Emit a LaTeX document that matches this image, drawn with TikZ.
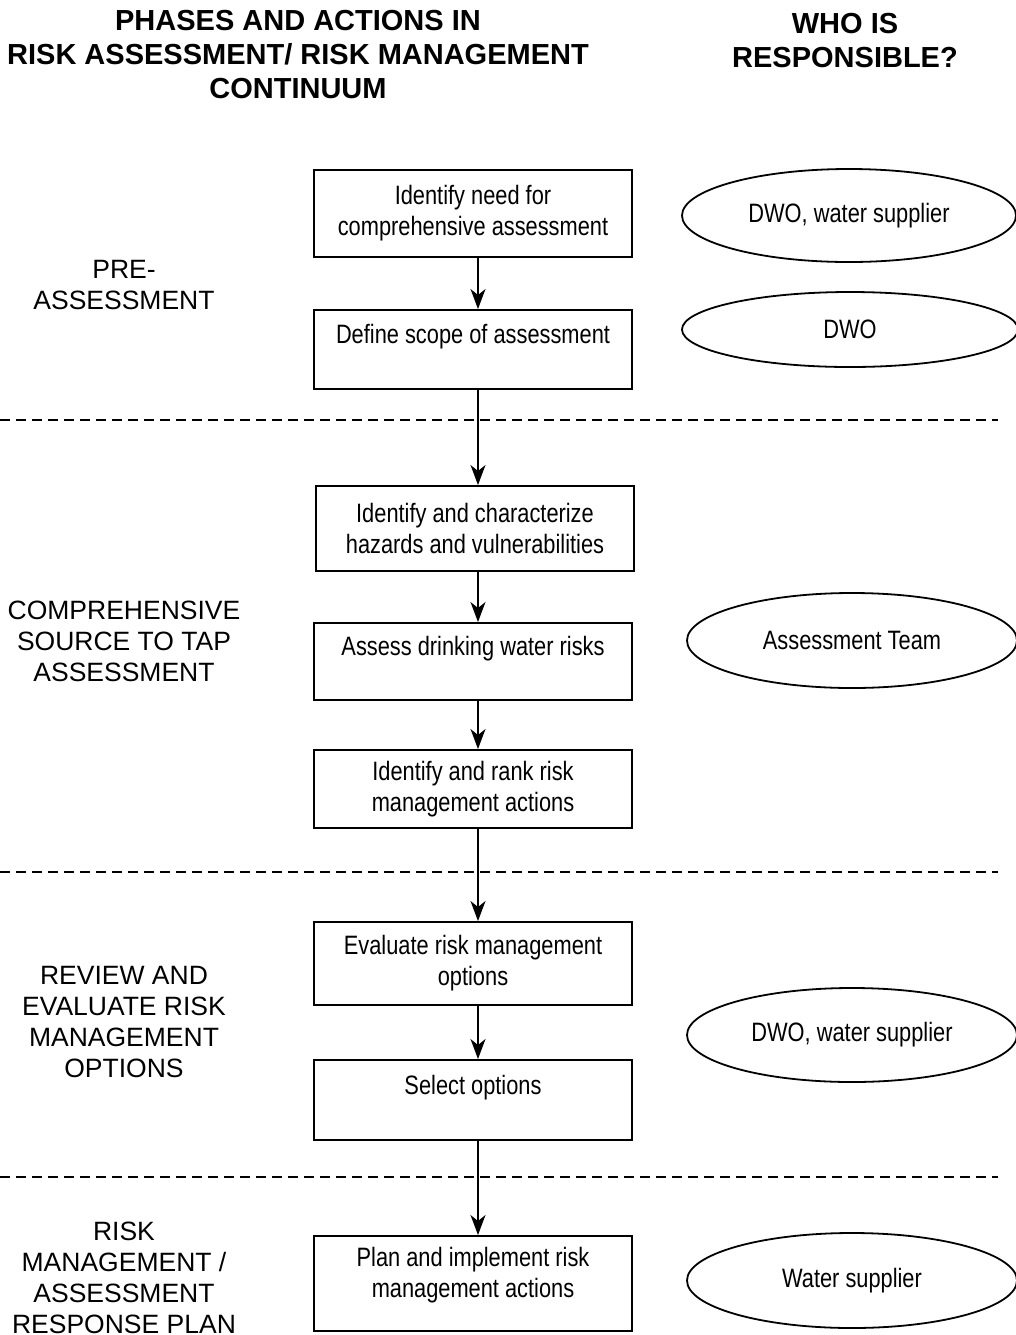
\documentclass[tikz,border=0pt]{standalone}
\usepackage{fontspec}
\setmainfont{Liberation Sans}
\newfontfamily\narrowfont[FakeStretch=0.82]{Liberation Sans}
\usepackage{tikz}
\usetikzlibrary{shapes.geometric,arrows.meta}

\begin{document}
\begin{tikzpicture}[x=0.5pt,y=-0.5pt,
	actbox/.style={draw,line width=1pt,minimum width=159pt,align=center,inner sep=0pt,
		font=\narrowfont\fontsize{13.3pt}{15.5pt}\selectfont},
	who/.style={ellipse,draw,line width=0.9pt,inner sep=0pt,
		font=\narrowfont\fontsize{13.3pt}{15.5pt}\selectfont},
	phase/.style={align=center,inner sep=0pt,anchor=north,font=\fontsize{13.25pt}{15.5pt}\selectfont},
	head/.style={align=center,inner sep=0pt,anchor=north,font=\bfseries\fontsize{14.5pt}{17pt}\selectfont},
	arr/.style={line width=0.75pt,-{Stealth[length=10pt,width=7.5pt,inset=3pt]}}]
	\useasboundingbox (0,0) rectangle (1016,1335);

	\node[head] (phases) at (298,10) {PHASES AND ACTIONS IN\\RISK ASSESSMENT/ RISK MANAGEMENT\\CONTINUUM};
	\begin{scope}
		\clip (600,0) rectangle (1016,67);
		\node[head] (whois) at (845,13) {WHO IS\\RESPONSIBLE?};
	\end{scope}

	% phases on the left
	\node[phase] (pre) at (124,260) {PRE-\\ASSESSMENT};
	\node[phase] (comp) at (124,601) {COMPREHENSIVE\\SOURCE TO TAP\\ASSESSMENT};
	\node[phase] (review) at (124,966) {REVIEW AND\\EVALUATE RISK\\MANAGEMENT\\OPTIONS};
	\node[phase] (plan) at (124,1222) {RISK\\MANAGEMENT /\\ASSESSMENT\\RESPONSE PLAN};

	\foreach \y in {420,872,1177}
		\draw[line width=0.75pt,dash pattern=on 5pt off 3pt] (0,\y) -- (998,\y);

	% actions
	\node[actbox,minimum height=43.5pt] (need) at (473,213.5) {Identify need for\\comprehensive assessment};
	\node[actbox,minimum height=39.5pt] (scope) at (473,349.5) {Define scope of assessment\\\mbox{}};
	\node[actbox,minimum height=42.5pt] (hazard) at (475,528.5) {Identify and characterize\\hazards and vulnerabilities};
	\node[actbox,minimum height=38.5pt] (risks) at (473,661.5) {Assess drinking water risks\\\mbox{}};
	\node[actbox,minimum height=39pt] (rank) at (473,789) {Identify and rank risk\\management actions};
	\node[actbox,minimum height=41.5pt] (eval) at (473,963.5) {Evaluate risk management\\options};
	\node[actbox,minimum height=40pt] (select) at (473,1100) {Select options\\\mbox{}};
	\node[actbox,minimum height=47.5pt] (impl) at (473,1283.5) {Plan and implement risk\\management actions\\[-4pt]\mbox{}};

	\coordinate (ax) at (478,0);
	\draw[arr] (need.south -| ax) -- (scope.north -| ax);
	\draw[arr] (scope.south -| ax) -- (hazard.north -| ax);
	\draw[arr] (hazard.south -| ax) -- (risks.north -| ax);
	\draw[arr] (risks.south -| ax) -- (rank.north -| ax);
	\draw[arr] (rank.south -| ax) -- (eval.north -| ax);
	\draw[arr] (eval.south -| ax) -- (select.north -| ax);
	\draw[arr] (select.south -| ax) -- (impl.north -| ax);

	% who is responsible
	\node[who,minimum width=167pt,minimum height=46.5pt] (w1) at (849,215.5) {DWO, water supplier};
	\node[who,minimum width=168pt,minimum height=37.5pt] (w2) at (850,329.5) {DWO};
	\node[who,minimum width=165pt,minimum height=47.5pt] (w3) at (852,640.5) {Assessment Team};
	\node[who,minimum width=165pt,minimum height=47pt] (w4) at (852,1035) {DWO, water supplier};
	\node[who,minimum width=165pt,minimum height=47.5pt] (w5) at (852,1280.5) {Water supplier};
\end{tikzpicture}
\end{document}
